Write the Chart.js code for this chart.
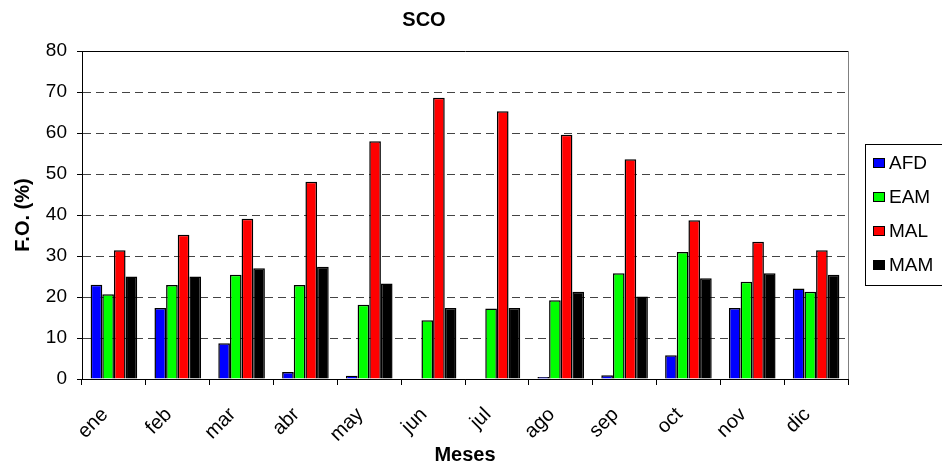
<!DOCTYPE html>
<html>
<head>
<meta charset="utf-8">
<script src="https://cdn.jsdelivr.net/npm/chart.js@4/dist/chart.umd.min.js"></script>
<style>
  html, body { margin: 0; padding: 0; background: #fff; }
  #wrap { width: 942px; height: 467px; }
</style>
</head>
<body>
<div id="wrap"><canvas id="scoChart"></canvas></div>
<script>
const meses = ["ene", "feb", "mar", "abr", "may", "jun", "jul", "ago", "sep", "oct", "nov", "dic"];
const afd = [23, 17.3, 8.7, 1.7, 0.8, 0, 0, 0.5, 0.9, 5.8, 17.3, 22.1];
const eam = [20.7, 22.9, 25.4, 22.9, 18.1, 14.3, 17.2, 19.2, 25.8, 31.0, 23.7, 21.3];
const mal = [31.4, 35.2, 39.1, 48.1, 58.0, 68.6, 65.3, 59.6, 53.6, 38.7, 33.5, 31.4];
const mam = [25.0, 25.0, 27.0, 27.4, 23.3, 17.3, 17.3, 21.3, 20.1, 24.6, 25.8, 25.4];
const yTicks = [0, 10, 20, 30, 40, 50, 60, 70, 80];

const FONT = "Arial, 'Liberation Sans', sans-serif";

// right border of the plot + boxed legend on the right
const frameAndLegend = {
  id: "frameAndLegend",
  afterDraw(chart) {
    const ctx = chart.ctx;
    const a = chart.chartArea;
    ctx.save();
    ctx.strokeStyle = "#808080";
    ctx.lineWidth = 1;
    ctx.beginPath();
    ctx.moveTo(a.right + 0.5, a.top);
    ctx.lineTo(a.right + 0.5, a.bottom);
    ctx.stroke();

    // legend box
    ctx.strokeStyle = "#000";
    ctx.strokeRect(865.5, 144.5, 90, 141);
    ctx.font = "19px " + FONT;
    ctx.textBaseline = "middle";
    chart.data.datasets.forEach((ds, i) => {
      const cy = 163 + i * 34;
      ctx.fillStyle = ds.backgroundColor;
      ctx.fillRect(873, cy - 4, 11, 9);
      ctx.strokeStyle = "#000";
      ctx.strokeRect(873.5, cy - 4.5, 11, 9);
      ctx.fillStyle = "#000";
      ctx.fillText(ds.label, 889, cy + 1);
    });
    ctx.restore();
  }
};

new Chart(document.getElementById("scoChart"), {
  type: "bar",
  data: {
    labels: meses,
    datasets: [
      { label: "AFD", data: afd, backgroundColor: "#0000ff" },
      { label: "EAM", data: eam, backgroundColor: "#00ff00" },
      { label: "MAL", data: mal, backgroundColor: "#ff0000" },
      { label: "MAM", data: mam, backgroundColor: "#000000" }
    ]
  },
  options: {
    responsive: true,
    maintainAspectRatio: false,
    animation: false,
    layout: { padding: { left: 0, right: 94, top: 0, bottom: 0 } },
    datasets: {
      bar: {
        borderColor: "#000",
        borderWidth: 1.5,
        barPercentage: 1,
        categoryPercentage: 0.73
      }
    },
    plugins: {
      legend: { display: false },
      tooltip: { enabled: false },
      title: {
        display: true,
        text: "SCO",
        color: "#000",
        font: { family: FONT, size: 20, weight: "bold" },
        padding: { top: 8, bottom: 19 }
      }
    },
    scales: {
      x: {
        afterFit(scale) { scale.height = 88; },
        grid: {
          offset: true,
          drawOnChartArea: false,
          drawTicks: true,
          tickLength: 6,
          tickColor: "#000"
        },
        border: { color: "#000", width: 1 },
        ticks: {
          color: "#000",
          font: { family: FONT, size: 20 },
          maxRotation: 45,
          minRotation: 45,
          padding: 18,
          labelOffset: -9
        },
        title: {
          display: true,
          text: "Meses",
          color: "#000",
          font: { family: FONT, size: 20, weight: "bold" },
          padding: { top: 0, bottom: 0 }
        }
      },
      y: {
        min: 0,
        max: 80,
        afterFit(scale) { scale.width = 82; },
        afterBuildTicks(scale) { scale.ticks = yTicks.map(v => ({ value: v })); },
        grid: {
          color: c => (c.tick && (c.tick.value === 0 || c.tick.value === 80)) ? "#000" : "#444",
          lineWidth: 1,
          drawTicks: true,
          tickLength: 5,
          tickColor: "#000"
        },
        border: {
          color: "#000",
          width: 1,
          dash: c => (c.tick && c.tick.value > 0 && c.tick.value < 80) ? [8, 5] : []
        },
        ticks: {
          color: "#000",
          font: { family: FONT, size: 19 },
          padding: 10
        },
        title: {
          display: true,
          text: "F.O. (%)",
          color: "#000",
          font: { family: FONT, size: 20, weight: "bold" },
          padding: { top: 11, bottom: 0 }
        }
      }
    }
  },
  plugins: [frameAndLegend]
});
</script>
</body>
</html>
